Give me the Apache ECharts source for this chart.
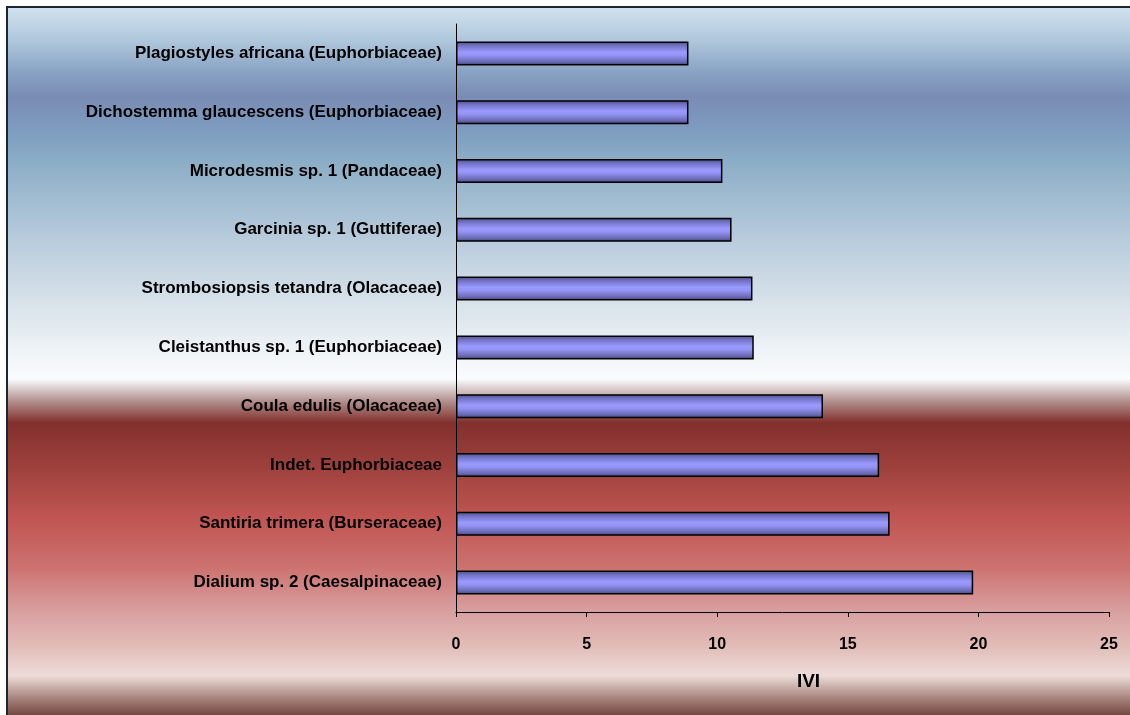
<!DOCTYPE html>
<html>
<head>
<meta charset="utf-8">
<title>IVI</title>
<script src="https://cdn.jsdelivr.net/npm/echarts@6/dist/echarts.min.js"></script>
<style>
  html, body { margin: 0; padding: 0; background: #ffffff; }
  #chart { width: 1130px; height: 715px; }
</style>
</head>
<body>
<div id="chart"></div>
<script>
// Species (top to bottom) and their importance value index
var species = [
  'Plagiostyles africana (Euphorbiaceae)',
  'Dichostemma glaucescens (Euphorbiaceae)',
  'Microdesmis sp. 1 (Pandaceae)',
  'Garcinia sp. 1 (Guttiferae)',
  'Strombosiopsis tetandra (Olacaceae)',
  'Cleistanthus sp. 1 (Euphorbiaceae)',
  'Coula edulis (Olacaceae)',
  'Indet. Euphorbiaceae',
  'Santiria trimera (Burseraceae)',
  'Dialium sp. 2 (Caesalpinaceae)'
];
var iviValues = [8.9, 8.9, 10.2, 10.55, 11.35, 11.4, 14.05, 16.2, 16.6, 19.8];
var axisMin = 0;
var axisMax = 25;
var axisStep = 5;
var axisTitle = 'IVI';

var FONT = "'Liberation Sans', Arial, sans-serif";
var chart = echarts.init(document.getElementById('chart'), null, { renderer: 'canvas' });

// Sky-to-earth backdrop behind the whole chart
var backdrop = new echarts.graphic.LinearGradient(0, 0, 0, 1, [
  { offset: 0.000, color: '#d2e3ef' },
  { offset: 0.047, color: '#b0c8dc' },
  { offset: 0.089, color: '#8ba5c5' },
  { offset: 0.127, color: '#7a8cb4' },
  { offset: 0.174, color: '#7e9dc0' },
  { offset: 0.226, color: '#8fb0c8' },
  { offset: 0.319, color: '#b5cadb' },
  { offset: 0.414, color: '#d8e2ea' },
  { offset: 0.484, color: '#eff4f7' },
  { offset: 0.520, color: '#fafcfd' },
  { offset: 0.548, color: '#b89a98' },
  { offset: 0.581, color: '#82302d' },
  { offset: 0.640, color: '#9c403c' },
  { offset: 0.713, color: '#c05552' },
  { offset: 0.781, color: '#cc716e' },
  { offset: 0.845, color: '#d8a0a0' },
  { offset: 0.894, color: '#e2bdb8' },
  { offset: 0.934, color: '#eddcd8' },
  { offset: 0.965, color: '#a8857e' },
  { offset: 1.000, color: '#5c2c24' }
]);

// Tube-like shading across each bar
var barFill = new echarts.graphic.LinearGradient(0, 0, 0, 1, [
  { offset: 0.00, color: '#4a4a86' },
  { offset: 0.18, color: '#7373c4' },
  { offset: 0.45, color: '#9a9aff' },
  { offset: 0.58, color: '#9494f6' },
  { offset: 0.85, color: '#6a6ab4' },
  { offset: 1.00, color: '#404074' }
]);

chart.setOption({
  animation: false,
  graphic: [{
    type: 'rect',
    z: -10,
    silent: true,
    shape: { x: 7, y: 7, width: 1130, height: 715 },
    style: { fill: backdrop, stroke: '#1c2633', lineWidth: 2 }
  }],
  grid: { left: 456, right: 21, top: 24, bottom: 103, containLabel: false },
  xAxis: {
    type: 'value',
    min: axisMin,
    max: axisMax,
    interval: axisStep,
    name: axisTitle,
    nameLocation: 'middle',
    nameGap: 60,
    nameTextStyle: { color: '#000', fontFamily: FONT, fontWeight: 'bold', fontSize: 19, padding: [0, 0, 0, 52] },
    axisLine: { show: true, lineStyle: { color: '#000', width: 1 } },
    axisTick: { show: true, inside: false, length: 5, lineStyle: { color: '#000' } },
    axisLabel: { color: '#000', fontFamily: FONT, fontWeight: 'bold', fontSize: 16, margin: 25 },
    splitLine: { show: false }
  },
  yAxis: {
    type: 'category',
    data: species,
    inverse: true,
    axisLine: { show: true, lineStyle: { color: '#000', width: 1 } },
    axisTick: { show: false },
    axisLabel: { color: '#000', fontFamily: FONT, fontWeight: 'bold', fontSize: 17, margin: 14 },
    splitLine: { show: false }
  },
  series: [{
    type: 'bar',
    data: iviValues,
    barWidth: 24,
    itemStyle: { color: barFill, borderColor: '#000', borderWidth: 1.5 }
  }]
});
</script>
</body>
</html>
